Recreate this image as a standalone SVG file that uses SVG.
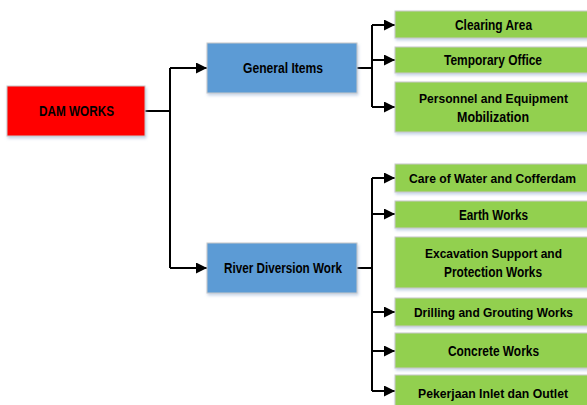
<svg xmlns="http://www.w3.org/2000/svg" width="587" height="405" viewBox="0 0 587 405">
<defs>
<marker id="arr" viewBox="0 0 10 10" refX="10" refY="5" markerWidth="11" markerHeight="11" markerUnits="userSpaceOnUse" orient="auto">
<path d="M0,0 L10,5 L0,10 Z" fill="#000"/>
</marker>
<filter id="sh" x="-10%" y="-20%" width="130%" height="160%">
<feDropShadow dx="1" dy="2" stdDeviation="1.5" flood-color="#9fb6d6" flood-opacity="0.6"/>
</filter>
</defs>
<style>
.box{stroke:#c8c8c8;stroke-width:1;filter:url(#sh)}
.red{fill:#ff0000}
.blue{fill:#5b9bd5}
.green{fill:#92d050}
text{font-family:"Liberation Sans",Arial,sans-serif;font-weight:bold;font-size:14px;fill:#000;text-anchor:middle;dominant-baseline:central}
text.s{font-size:13px}
.c{fill:none;stroke:#000;stroke-width:2}
</style>
<rect width="587" height="405" fill="#fff"/>
<g id="connectors">
<path class="c" d="M145,111 H170 M170,68 V268"/>
<path class="c" d="M170,68 H207" marker-end="url(#arr)"/>
<path class="c" d="M170,268 H207" marker-end="url(#arr)"/>
<path class="c" d="M357,68 H372 M372,25 V107"/>
<path class="c" d="M372,25 H395" marker-end="url(#arr)"/>
<path class="c" d="M372,60 H395" marker-end="url(#arr)"/>
<path class="c" d="M372,107 H395" marker-end="url(#arr)"/>
<path class="c" d="M357,268 H372 M372,178 V391"/>
<path class="c" d="M372,178 H395" marker-end="url(#arr)"/>
<path class="c" d="M372,214 H395" marker-end="url(#arr)"/>
<path class="c" d="M372,312 H395" marker-end="url(#arr)"/>
<path class="c" d="M372,351 H395" marker-end="url(#arr)"/>
<path class="c" d="M372,391 H395" marker-end="url(#arr)"/>
</g>
<g id="dam-works"><rect class="box red" x="7" y="86" width="138" height="50"/><text x="76.5" y="111" textLength="75" lengthAdjust="spacingAndGlyphs">DAM WORKS</text></g>
<g id="general-items"><rect class="box blue" x="207" y="43" width="150" height="50"/><text x="283" y="68" textLength="80" lengthAdjust="spacingAndGlyphs">General Items</text></g>
<g id="river-diversion"><rect class="box blue" x="207" y="243" width="150" height="50"/><text x="283" y="268" textLength="118" lengthAdjust="spacingAndGlyphs">River Diversion Work</text></g>
<g id="clearing-area"><rect class="box green" x="395" y="11" width="193" height="27"/><text x="493.5" y="24.5" textLength="77" lengthAdjust="spacingAndGlyphs">Clearing Area</text></g>
<g id="temporary-office"><rect class="box green" x="395" y="47" width="193" height="26"/><text x="493" y="60" textLength="98" lengthAdjust="spacingAndGlyphs">Temporary Office</text></g>
<g id="personnel"><rect class="box green" x="395" y="82" width="193" height="50"/><text class="s" x="493.5" y="98" textLength="149" lengthAdjust="spacingAndGlyphs">Personnel and Equipment</text><text x="493" y="117" textLength="72" lengthAdjust="spacingAndGlyphs">Mobilization</text></g>
<g id="care-of-water"><rect class="box green" x="395" y="164" width="193" height="28"/><text class="s" x="492.5" y="178" textLength="167" lengthAdjust="spacingAndGlyphs">Care of Water and Cofferdam</text></g>
<g id="earth-works"><rect class="box green" x="395" y="201" width="193" height="27"/><text x="493.5" y="214.5" textLength="69" lengthAdjust="spacingAndGlyphs">Earth Works</text></g>
<g id="excavation"><rect class="box green" x="395" y="237" width="193" height="51"/><text class="s" x="493.5" y="253" textLength="137" lengthAdjust="spacingAndGlyphs">Excavation Support and</text><text x="493" y="272" textLength="98" lengthAdjust="spacingAndGlyphs">Protection Works</text></g>
<g id="drilling"><rect class="box green" x="395" y="298" width="193" height="28"/><text class="s" x="493.5" y="312" textLength="159" lengthAdjust="spacingAndGlyphs">Drilling and Grouting Works</text></g>
<g id="concrete"><rect class="box green" x="395" y="333" width="193" height="35"/><text x="493.5" y="351" textLength="91" lengthAdjust="spacingAndGlyphs">Concrete Works</text></g>
<g id="pekerjaan"><rect class="box green" x="395" y="375" width="193" height="40"/><text class="s" x="493" y="393" textLength="150" lengthAdjust="spacingAndGlyphs">Pekerjaan Inlet dan Outlet</text></g>
</svg>
